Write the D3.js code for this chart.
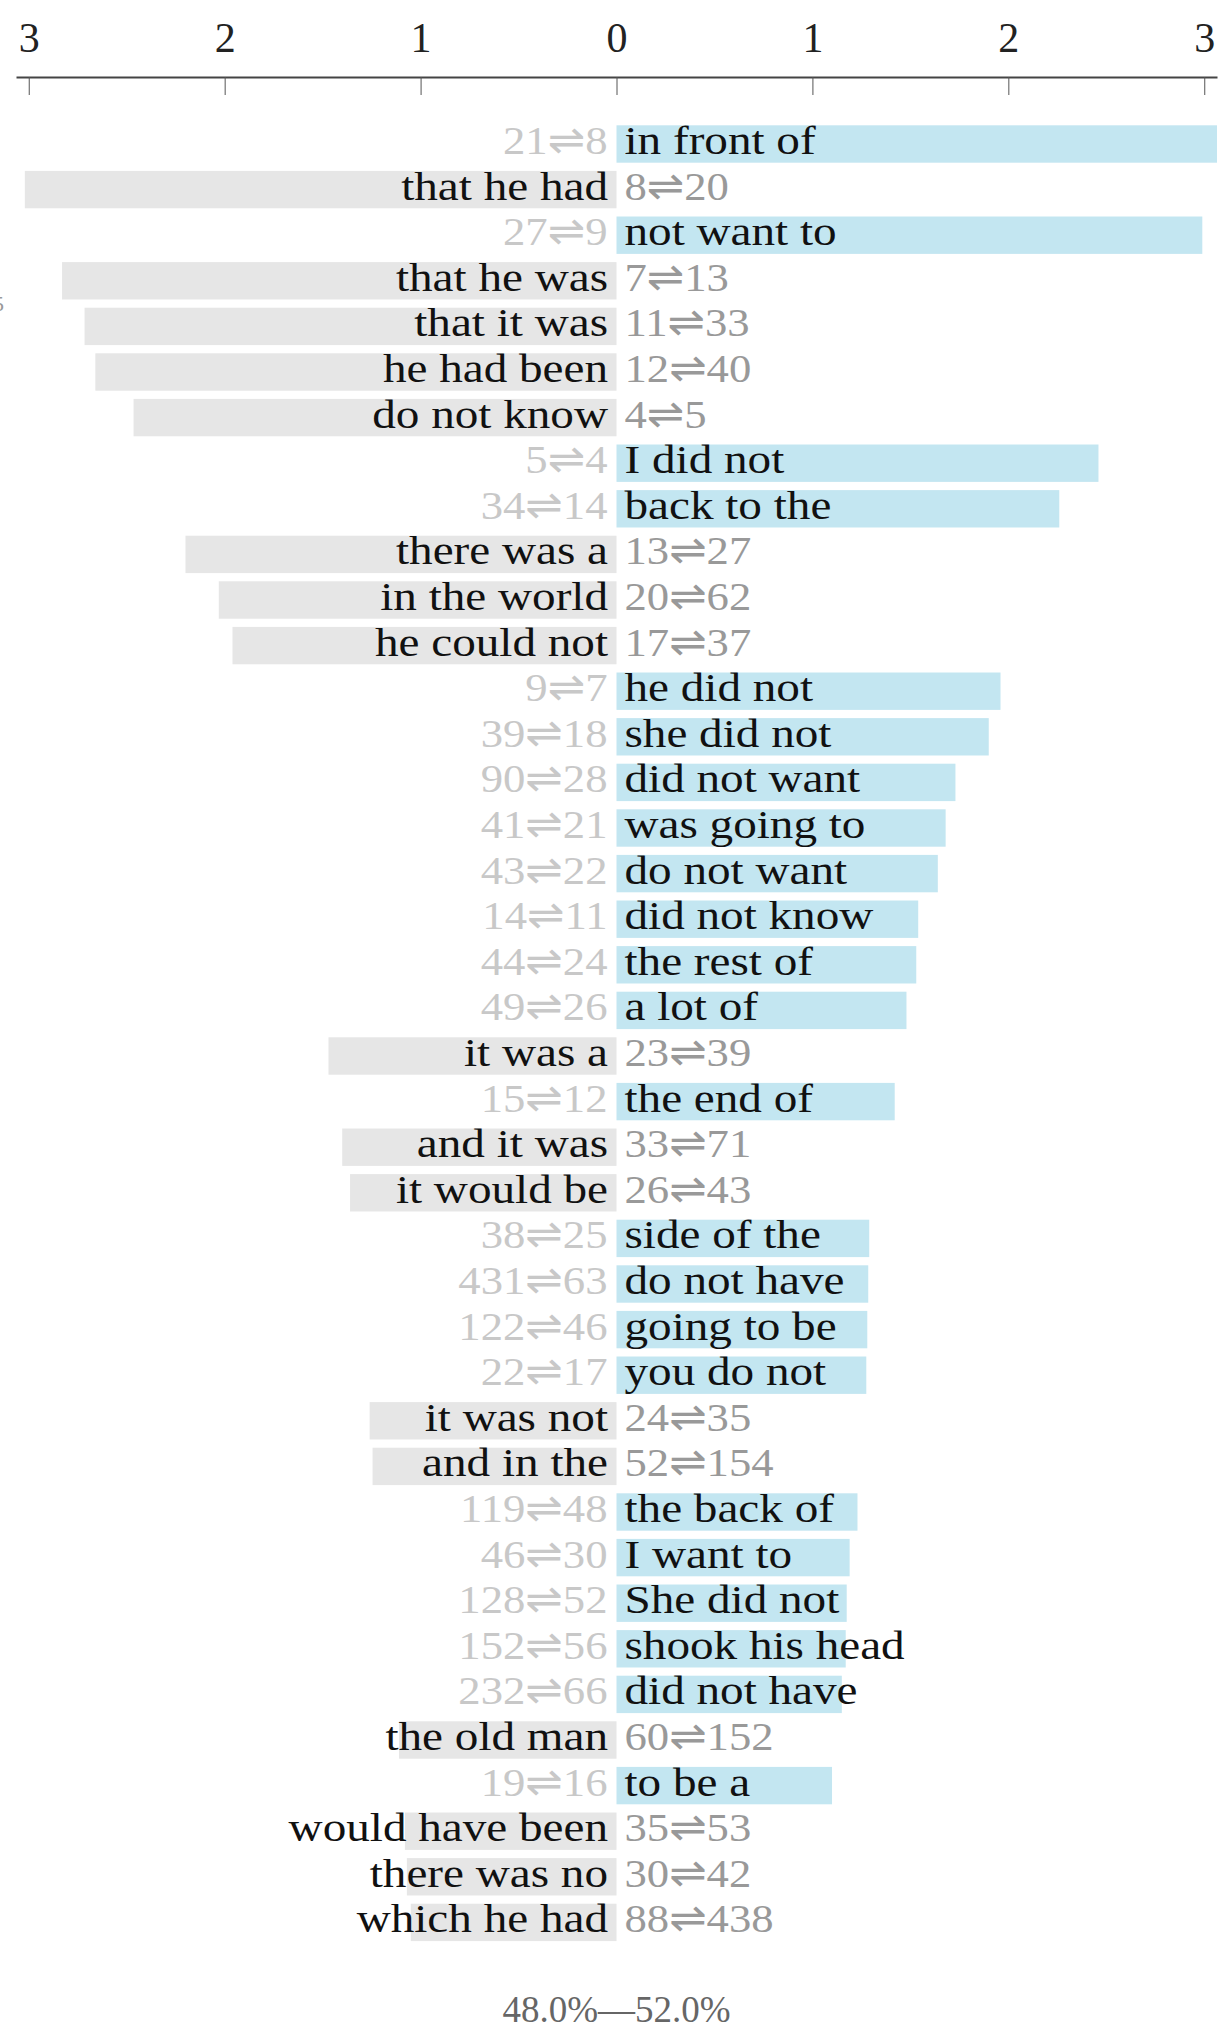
<!DOCTYPE html>
<html>
<head>
<meta charset="utf-8">
<script src="https://cdn.jsdelivr.net/npm/d3@7"></script>
<style>
    body { margin: 0; background: #fff; }
    svg text { font-family: "Liberation Serif", "DejaVu Sans", serif; }
</style>
</head>
<body>
<svg id="chart"></svg>
<script>
// phrases, top to bottom; negative score = grey bar to the left
const phrases = [
    "in front of", "that he had", "not want to", "that he was", "that it was",
    "he had been", "do not know", "I did not", "back to the", "there was a",
    "in the world", "he could not", "he did not", "she did not", "did not want",
    "was going to", "do not want", "did not know", "the rest of", "a lot of",
    "it was a", "the end of", "and it was", "it would be", "side of the",
    "do not have", "going to be", "you do not", "it was not", "and in the",
    "the back of", "I want to", "She did not", "shook his head", "did not have",
    "the old man", "to be a", "would have been", "there was no", "which he had"
];
const scores = [
    3.065, -3.02, 2.99, -2.83, -2.715,
    -2.66, -2.465, 2.46, 2.26, -2.20,
    -2.03, -1.96, 1.96, 1.90, 1.73,
    1.68, 1.64, 1.54, 1.53, 1.48,
    -1.47, 1.42, -1.40, -1.36, 1.29,
    1.285, 1.28, 1.275, -1.26, -1.245,
    1.23, 1.19, 1.175, 1.17, 1.15,
    -1.11, 1.10, -1.08, -1.07, -1.05
];
const countsFrom = [
    21, 8, 27, 7, 11, 12, 4, 5, 34, 13,
    20, 17, 9, 39, 90, 41, 43, 14, 44, 49,
    23, 15, 33, 26, 38, 431, 122, 22, 24, 52,
    119, 46, 128, 152, 232, 60, 19, 35, 30, 88
];
const countsTo = [
    8, 20, 9, 13, 33, 40, 5, 4, 14, 27,
    62, 37, 7, 18, 28, 21, 22, 11, 24, 26,
    39, 12, 71, 43, 25, 63, 46, 17, 35, 154,
    48, 30, 52, 56, 66, 152, 16, 53, 42, 438
];
const tickValues = [-3, -2, -1, 0, 1, 2, 3];
const rangeLabel = "48.0%\u201452.0%";

class PhraseChart {
    constructor(svg, width = 1227, height = 2037) {
        this.svg = svg;
        this.width = width;
        this.height = height;
    }

    initialize() {
        this.svg = d3.select(this.svg)
            .attr("width", this.width)
            .attr("height", this.height);

        const maxAbs = d3.max(scores, d => Math.abs(d));
        this.xScale = d3.scaleLinear().domain([-maxAbs, maxAbs]).range([16, 1217]);
        this.yScale = d3.scaleBand()
            .domain(d3.range(phrases.length))
            .range([121.2, 121.2 + 45.6 * phrases.length])
            .paddingInner(0.18)
            .paddingOuter(0.09);

        this.bars = this.svg.append("g");
        this.labels = this.svg.append("g");
        this.xAxis = this.svg.append("g").attr("transform", "translate(0,77)");
    }

    update() {
        const x = this.xScale, y = this.yScale;
        const x0 = x(0);
        const rows = phrases.map((p, i) => ({
            i, phrase: p, score: scores[i], counts: `${countsFrom[i]}\u21CC${countsTo[i]}`
        }));

        this.bars.selectAll("rect")
            .data(rows)
            .join("rect")
            .attr("x", d => Math.min(x(d.score), x0))
            .attr("y", d => y(d.i))
            .attr("width", d => Math.abs(x(d.score) - x0))
            .attr("height", y.bandwidth())
            .attr("fill", d => d.score > 0 ? "#c3e6f1" : "#e6e6e6");

        const row = this.labels.selectAll("g")
            .data(rows)
            .join("g")
            .attr("transform", d => `translate(0,${y(d.i) + y.bandwidth() / 2 + 10})`);

        // phrase text (CM-like width, so stretch it a bit)
        row.append("text")
            .attr("transform", d => `translate(${d.score > 0 ? x0 + 8 : x0 - 8.5},0) scale(1.15,1)`)
            .attr("text-anchor", d => d.score > 0 ? "start" : "end")
            .attr("font-size", 41)
            .attr("fill", "#111")
            .text(d => d.phrase);

        row.append("text")
            .attr("transform", d => `translate(${d.score > 0 ? x0 - 9 : x0 + 8},0) scale(1.09,1)`)
            .attr("text-anchor", d => d.score > 0 ? "end" : "start")
            .attr("font-size", 41)
            .attr("fill", d => d.score > 0 ? "#c8c8c8" : "#999")
            .text(d => d.counts);

        this.xAxis.call(d3.axisTop(x)
                .tickValues(tickValues)
                .tickFormat(d => Math.abs(d))
                .tickSizeInner(-18)
                .tickSizeOuter(0)
                .tickPadding(25))
            .call(g => g.select(".domain").attr("stroke", "#444").attr("stroke-width", 2))
            .call(g => g.selectAll(".tick line").attr("stroke", "#555").attr("stroke-width", 1))
            .call(g => g.selectAll(".tick text")
                .attr("font-size", 42)
                .attr("font-family", "Liberation Serif, serif")
                .attr("fill", "#222"));

        this.svg.append("text")
            .attr("x", x0)
            .attr("y", 2022)
            .attr("text-anchor", "middle")
            .attr("font-size", 37)
            .attr("fill", "#666")
            .text(rangeLabel);

        // cut-off fragment at the left edge (as in the reference)
        this.svg.append("text")
            .attr("x", 4)
            .attr("y", 311)
            .attr("text-anchor", "end")
            .attr("font-size", 22)
            .attr("fill", "#999")
            .text("5");
    }
}

const chart = new PhraseChart("#chart");
chart.initialize();
chart.update();
</script>
</body>
</html>
